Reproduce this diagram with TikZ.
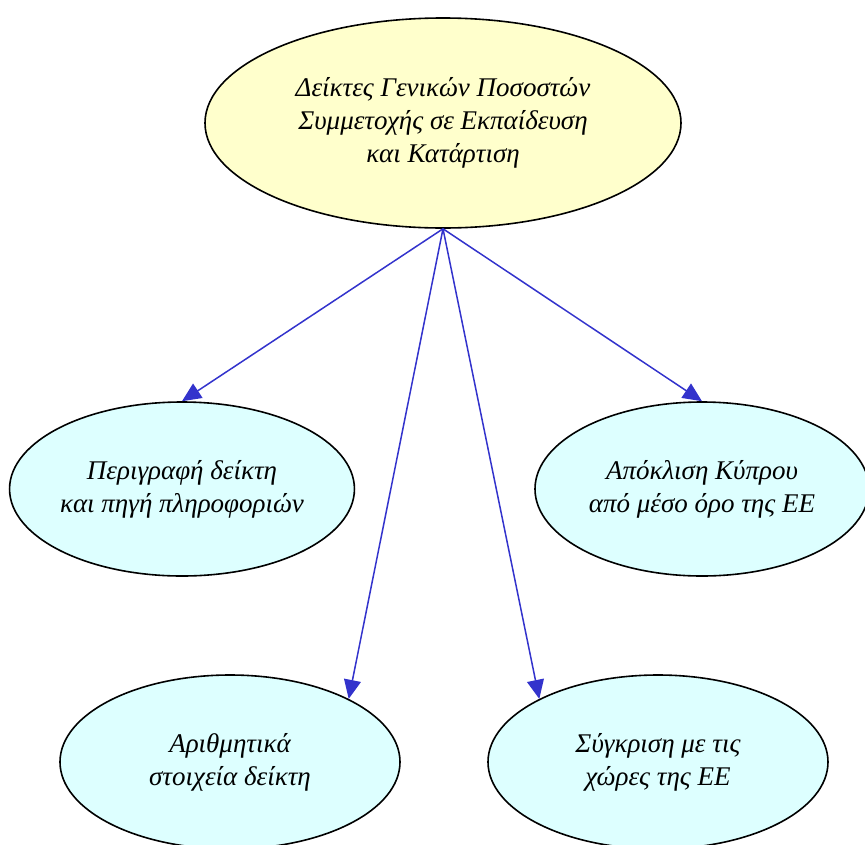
\documentclass[tikz,border=0pt]{standalone}
\usepackage{fontspec}
\setmainfont{Liberation Serif}
\usetikzlibrary{shapes.geometric,arrows.meta}
\definecolor{topfill}{HTML}{FFFFCC}
\definecolor{leaffill}{HTML}{DDFFFF}
\definecolor{arrowblue}{HTML}{3333CC}
\tikzset{
  x=1pt,y=1pt,
  bubble/.style={ellipse,draw=black,line width=1.6pt,inner sep=0pt,align=center,
    font=\itshape\fontsize{27}{33}\selectfont},
  topbubble/.style={bubble,fill=topfill,minimum width=476,minimum height=210},
  leaf/.style={bubble,fill=leaffill,minimum width=340,minimum height=174},
  link/.style={draw=arrowblue,line width=1.5pt,-{Triangle[length=19pt,width=17pt]}}
}
\begin{document}
\begin{tikzpicture}
\useasboundingbox (0,0) rectangle (865,-844);
\clip (0,0) rectangle (865,-844);
\node[topbubble] (top) at (443,-123) {Δείκτες Γενικών Ποσοστών\\Συμμετοχής σε Εκπαίδευση\\και Κατάρτιση};
\node[leaf] (desc) at (182,-489) {Περιγραφή δείκτη\\και πηγή πληροφοριών};
\node[leaf,minimum width=334] (dev) at (702,-489) {Απόκλιση Κύπρου\\από μέσο όρο της ΕΕ};
\node[leaf] (num) at (230,-762) {Αριθμητικά\\στοιχεία δείκτη};
\node[leaf] (cmp) at (658,-762) {Σύγκριση με τις\\χώρες της ΕΕ};
\draw[link] (top.south) -- (desc.north);
\draw[link] (top.south) -- (dev.north);
\draw[link] (top.south) -- (num.28);
\draw[link] (top.south) -- (cmp.152);
\end{tikzpicture}
\end{document}
